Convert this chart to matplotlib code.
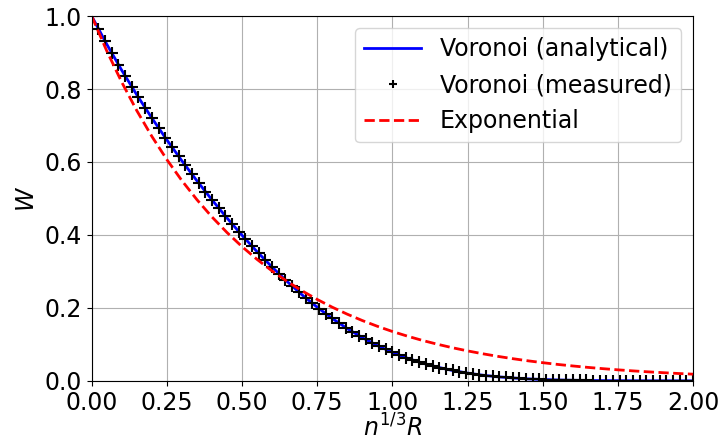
import matplotlib
matplotlib.use('Agg')
import matplotlib.pyplot as plt
import numpy as np

# measured Voronoi points, 91 samples between 0 and 2
x_measured = np.linspace(0, 2, 91)
w_measured = [1.0, 0.9651, 0.9313, 0.8986, 0.8668, 0.8360, 0.8061, 0.7769, 0.7484, 0.7206,
              0.6935, 0.6670, 0.6410, 0.6156, 0.5908, 0.5664, 0.5425, 0.5191, 0.4962, 0.4738,
              0.4518, 0.4303, 0.4093, 0.3888, 0.3688, 0.3493, 0.3303, 0.3119, 0.2939, 0.2765,
              0.2597, 0.2435, 0.2278, 0.2127, 0.1982, 0.1843, 0.1710, 0.1582, 0.1461, 0.1346,
              0.1237, 0.1134, 0.1037, 0.0946, 0.0861, 0.0781, 0.0706, 0.0637, 0.0573, 0.0514,
              0.0459, 0.0409, 0.0363, 0.0322, 0.0284, 0.0250, 0.0219, 0.0191, 0.0166, 0.0144,
              0.0125, 0.0107, 0.0092, 0.0079, 0.0067, 0.0057, 0.0048, 0.0040, 0.0034, 0.0028,
              0.0023, 0.0019, 0.0016, 0.0013, 0.0011, 0.0009, 0.0007, 0.0005, 0.0004, 0.0003,
              0.0002, 0.0002, 0.0001, 0.0001, 0.0001, 0.0, 0.0, 0.0, 0.0, 0.0, 0.0]

# analytical curve and exponential, sampled every 0.05
x_curve = np.linspace(0, 2, 41)
w_analytical = [1.0, 0.9230, 0.8513, 0.7841, 0.7206, 0.6605, 0.6031, 0.5484, 0.4962, 0.4464,
                0.3990, 0.3541, 0.3119, 0.2723, 0.2355, 0.2017, 0.1710, 0.1432, 0.1185, 0.0968,
                0.0781, 0.0620, 0.0486, 0.0375, 0.0284, 0.0212, 0.0155, 0.0111, 0.0079, 0.0054,
                0.0037, 0.0024, 0.0016, 0.0010, 0.0006, 0.0004, 0.0002, 0.0001, 0.0001, 0.0, 0.0]
w_exponential = [1.0, 0.9048, 0.8187, 0.7408, 0.6703, 0.6065, 0.5488, 0.4966, 0.4493, 0.4066,
                 0.3679, 0.3329, 0.3012, 0.2725, 0.2466, 0.2231, 0.2019, 0.1827, 0.1653, 0.1496,
                 0.1353, 0.1225, 0.1108, 0.1003, 0.0907, 0.0821, 0.0743, 0.0672, 0.0608, 0.0550,
                 0.0498, 0.0450, 0.0408, 0.0369, 0.0334, 0.0302, 0.0273, 0.0247, 0.0224, 0.0202,
                 0.0183]

plt.rcParams['font.size'] = 17

fig = plt.figure(figsize=(7.22, 4.47), dpi=100)
ax = fig.add_axes([0.127, 0.148, 0.833, 0.816])

ax.plot(x_curve, w_analytical, 'b-', lw=2, label='Voronoi (analytical)')
ax.plot(x_measured, w_measured, 'k+', ms=8, mew=1.5, label='Voronoi (measured)')
ax.plot(x_curve, w_exponential, 'r--', lw=2, label='Exponential')

ax.set_xlim(0, 2)
ax.set_ylim(0, 1)
ax.set_xticks(np.arange(0, 2.01, 0.25))
ax.set_xticklabels([f'{v:.2f}' for v in np.arange(0, 2.01, 0.25)])
ax.set_xlabel('$n^{1/3}R$', labelpad=0)
ax.set_ylabel('$W$')
ax.grid(True)
ax.legend(loc='upper right', markerscale=0.75, handlelength=2.4)

fig.savefig('out.png')
